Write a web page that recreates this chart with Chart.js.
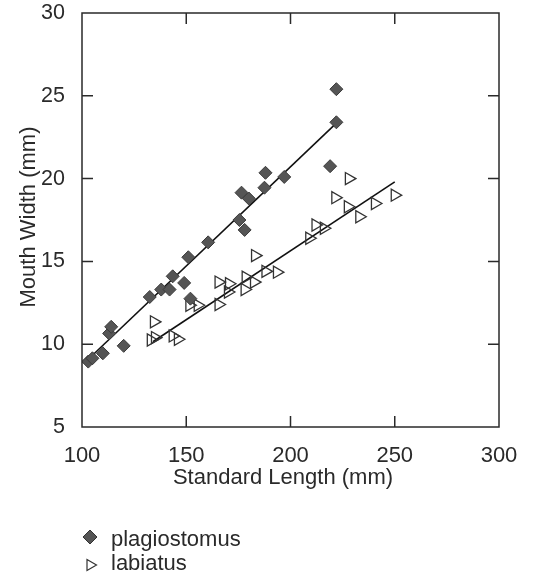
<!DOCTYPE html>
<html>
<head>
<meta charset="utf-8">
<script src="https://cdn.jsdelivr.net/npm/chart.js@4.4.1/dist/chart.umd.min.js"></script>
<style>
  html, body { margin: 0; padding: 0; background: #fff; }
</style>
</head>
<body>
<canvas id="plot" width="533" height="580"></canvas>
<script>
// standard length (mm) vs mouth width (mm)
const plagLength = [103, 105, 110, 113, 114, 120, 132.5, 138, 142, 143.5, 149, 151, 152, 160.5, 175.5, 178, 176.5, 180, 187.5, 188, 197, 219, 222, 222]
const plagWidth = [8.95, 9.15, 9.45, 10.65, 11.05, 9.9, 12.85, 13.3, 13.3, 14.1, 13.7, 15.25, 12.75, 16.15, 17.5, 16.9, 19.15, 18.8, 19.45, 20.35, 20.1, 20.75, 23.4, 25.4]
const labLength = [133, 135, 134.5, 143.5, 146, 151.5, 155.5, 165.5, 165.5, 170, 170.5, 178, 178.5, 182.5, 183, 188, 193.5, 209, 212, 216, 221.5, 227.5, 228, 233, 240.5, 250]
const labWidth = [10.25, 10.4, 11.35, 10.5, 10.3, 12.35, 12.35, 12.4, 13.75, 13.15, 13.65, 13.3, 14.05, 13.75, 15.35, 14.4, 14.35, 16.4, 17.2, 17.0, 18.85, 18.3, 20.0, 17.7, 18.5, 19.0]

// fitted lines (end points)
const plagFitLength = [101, 222]
const plagFitWidth = [8.85, 23.35]
const labFitLength = [134, 250]
const labFitWidth = [10.15, 19.8]

const xTicks = [100, 150, 200, 250, 300]
const yTicks = [5, 10, 15, 20, 25, 30]
const seriesNames = ['plagiostomus', 'labiatus']
const xTitle = 'Standard Length (mm)'
const yTitle = 'Mouth Width (mm)'

const FONT = "'Liberation Sans', Arial, sans-serif"
const INK = '#2a2a2a'

function pairs(xs, ys) {
    return xs.map((x, i) => ({ x: x, y: ys[i] }))
}

// box round the plot with inward ticks on all four sides
const frame = {
    id: 'frame',
    afterDatasetsDraw(chart) {
        const { ctx, chartArea: a, scales } = chart
        ctx.save()
        ctx.strokeStyle = INK
        ctx.lineWidth = 1.5
        ctx.strokeRect(a.left, a.top, a.right - a.left, a.bottom - a.top)
        ctx.beginPath()
        xTicks.slice(1, -1).forEach(v => {
            const px = scales.x.getPixelForValue(v)
            ctx.moveTo(px, a.bottom); ctx.lineTo(px, a.bottom - 11)
            ctx.moveTo(px, a.top); ctx.lineTo(px, a.top + 11)
        })
        yTicks.slice(1, -1).forEach(v => {
            const py = scales.y.getPixelForValue(v)
            ctx.moveTo(a.left, py); ctx.lineTo(a.left + 11, py)
            ctx.moveTo(a.right, py); ctx.lineTo(a.right - 11, py)
        })
        ctx.stroke()
        ctx.restore()
    }
}

// axis titles sit a little off centre in the original, so draw them here
const titles = {
    id: 'titles',
    afterDraw(chart) {
        const ctx = chart.ctx
        ctx.save()
        ctx.font = '22px ' + FONT
        ctx.fillStyle = INK
        ctx.textAlign = 'center'
        ctx.textBaseline = 'middle'
        ctx.fillText(xTitle, 283, 478)
        ctx.translate(29, 217)
        ctx.rotate(-Math.PI / 2)
        ctx.fillText(yTitle, 0, 0)
        ctx.restore()
    }
}

// legend stacked under the axis title
const stackLegend = {
    id: 'stackLegend',
    afterDraw(chart) {
        const ctx = chart.ctx
        ctx.save()
        ctx.font = '22px ' + FONT
        ctx.fillStyle = INK
        ctx.textBaseline = 'middle'
        ctx.fillText(seriesNames[0], 111, 540)
        ctx.fillText(seriesNames[1], 111, 564)

        // diamond
        ctx.beginPath()
        ctx.moveTo(90, 530); ctx.lineTo(97, 537); ctx.lineTo(90, 544); ctx.lineTo(83, 537)
        ctx.closePath()
        ctx.fillStyle = '#555'
        ctx.fill()
        ctx.strokeStyle = '#333'
        ctx.lineWidth = 1
        ctx.stroke()

        // open triangle pointing right
        ctx.beginPath()
        ctx.moveTo(87, 559.5); ctx.lineTo(96.5, 565); ctx.lineTo(87, 570.5)
        ctx.closePath()
        ctx.strokeStyle = '#333'
        ctx.lineWidth = 1.2
        ctx.stroke()
        ctx.restore()
    }
}

const config = {
    type: 'scatter',
    data: {
        datasets: [
            {
                label: seriesNames[0],
                data: pairs(plagLength, plagWidth),
                pointStyle: 'rectRot',
                pointRadius: 6.5,
                backgroundColor: '#555',
                borderColor: '#3a3a3a',
                borderWidth: 1
            },
            {
                label: seriesNames[1],
                data: pairs(labLength, labWidth),
                pointStyle: 'triangle',
                rotation: 90,
                pointRadius: 7,
                backgroundColor: 'rgba(255,255,255,0)',
                borderColor: '#333',
                borderWidth: 1.3
            },
            {
                type: 'line',
                data: pairs(plagFitLength, plagFitWidth),
                borderColor: '#111',
                borderWidth: 1.6,
                pointRadius: 0,
                fill: false
            },
            {
                type: 'line',
                data: pairs(labFitLength, labFitWidth),
                borderColor: '#111',
                borderWidth: 1.6,
                pointRadius: 0,
                fill: false
            }
        ]
    },
    options: {
        responsive: false,
        animation: false,
        events: [],
        layout: {
            padding: { left: 0, top: 13, right: 34, bottom: 80 }
        },
        plugins: {
            legend: { display: false },
            tooltip: { enabled: false }
        },
        scales: {
            x: {
                type: 'linear',
                min: 100,
                max: 300,
                afterBuildTicks: s => { s.ticks = xTicks.map(v => ({ value: v })) },
                afterFit: s => { s.height = 73 },
                grid: { display: false },
                border: { display: false },
                ticks: {
                    color: INK,
                    padding: 8,
                    maxRotation: 0,
                    font: { family: FONT, size: 22 }
                }
            },
            y: {
                type: 'linear',
                min: 5,
                max: 30,
                afterBuildTicks: s => { s.ticks = yTicks.map(v => ({ value: v })) },
                afterFit: s => {
                    s.width = 82
                    s.paddingTop = 0
                    s.paddingBottom = 0
                },
                grid: { display: false },
                border: { display: false },
                ticks: {
                    color: INK,
                    padding: 9,
                    font: { family: FONT, size: 21.5 }
                }
            }
        }
    },
    plugins: [frame, titles, stackLegend]
}

const chart = new Chart(document.getElementById('plot'), config)
</script>
</body>
</html>
